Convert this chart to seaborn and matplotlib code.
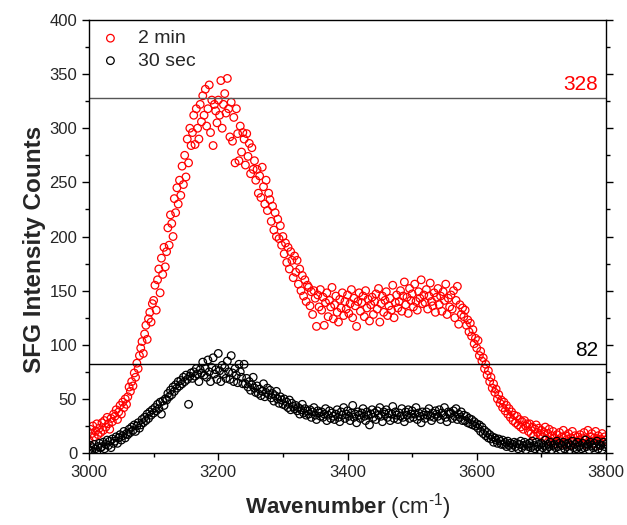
import matplotlib
matplotlib.use("Agg")
import matplotlib.pyplot as plt
from matplotlib.ticker import MultipleLocator
import numpy as np
import pandas as pd
import seaborn as sns

# wavenumber grid, 2 cm-1 step
wavenumber = np.arange(3000, 3802, 2)

# SFG counts, 10 points (20 cm-1) per line
counts_2min = [
    12, 22, 18, 25, 15, 20, 27, 17, 23, 19,
    28, 21, 30, 24, 33, 27, 22, 32, 29, 36,
    34, 40, 31, 38, 44, 36, 47, 42, 50, 45,
    52, 61, 57, 66, 62, 74, 70, 83, 78, 90,
    97, 103, 92, 110, 118, 105, 124, 130, 121, 138,
    141, 155, 132, 160, 170, 148, 180, 165, 190, 172,
    186, 208, 192, 220, 212, 200, 235, 222, 245, 230,
    252, 238, 265, 248, 275, 255, 290, 268, 300, 284,
    296, 312, 285, 318, 300, 290, 322, 306, 330, 312,
    336, 302, 318, 340, 296, 326, 284, 322, 316, 305,
    326, 312, 344, 300, 322, 332, 314, 346, 318, 292,
    324, 288, 310, 268, 318, 295, 270, 302, 278, 296,
    290, 266, 295, 274, 286, 258, 282, 262, 270, 252,
    262, 240, 256, 236, 264, 246, 230, 252, 224, 240,
    234, 214, 228, 206, 222, 200, 216, 198, 210, 192,
    200, 184, 194, 176, 190, 170, 186, 178, 162, 182,
    167, 178, 156, 170, 150, 164, 145, 160, 140, 155,
    153, 136, 149, 128, 150, 143, 117, 146, 135, 151,
    132, 144, 118, 139, 148, 126, 141, 135, 153, 124,
    137, 145, 130, 121, 142, 134, 148, 127, 140, 133,
    146, 129, 138, 151, 125, 143, 136, 117, 140, 148,
    131, 139, 145, 126, 150, 134, 142, 122, 137, 144,
    128, 140, 147, 133, 152, 121, 138, 145, 130, 141,
    149, 127, 136, 143, 132, 155, 125, 139, 146, 134,
    140, 150, 131, 145, 158, 137, 144, 129, 152, 141,
    147, 135, 156, 140, 132, 149, 143, 160, 138, 146,
    139, 151, 133, 145, 157, 140, 136, 148, 130, 144,
    152, 137, 145, 131, 149, 141, 156, 128, 143, 135,
    146, 133, 150, 125, 141, 154, 119, 137, 128, 134,
    126, 132, 118, 123, 112, 120, 108, 114, 101, 106,
    97, 104, 90, 94, 85, 88, 78, 82, 72, 76,
    66, 70, 60, 64, 56, 59, 50, 54, 46, 49,
    42, 47, 39, 44, 36, 41, 33, 38, 30, 35,
    28, 34, 26, 31, 24, 29, 22, 30, 25, 27,
    20, 27, 18, 24, 16, 22, 26, 19, 23, 17,
    21, 15, 19, 24, 13, 18, 22, 11, 16, 20,
    14, 9, 17, 12, 19, 8, 15, 21, 10, 16,
    13, 18, 7, 14, 20, 11, 16, 9, 15, 12,
    17, 10, 14, 19, 8, 13, 21, 11, 15, 18,
    9, 14, 20, 12, 16, 7, 13, 18, 10, 15,
    12,
]

counts_30sec = [
    3, 7, 2, 5, 8, 4, 1, 6, 9, 5,
    6, 10, 4, 8, 12, 7, 11, 5, 13, 9,
    11, 15, 9, 14, 17, 12, 16, 20, 14, 18,
    17, 22, 19, 24, 21, 26, 20, 25, 28, 23,
    26, 31, 28, 33, 30, 36, 32, 38, 35, 40,
    37, 42, 39, 45, 41, 47, 36, 48, 44, 50,
    49, 55, 52, 58, 54, 61, 57, 63, 60, 66,
    62, 67, 64, 70, 66, 72, 68, 45, 71, 74,
    69, 75, 71, 78, 73, 66, 77, 74, 84, 72,
    78, 70, 86, 75, 66, 79, 88, 73, 77, 68,
    92, 76, 66, 81, 73, 79, 69, 85, 75, 68,
    90, 74, 66, 78, 72, 65, 82, 75, 70, 64,
    82, 64, 69, 61, 66, 58, 63, 70, 60, 56,
    62, 55, 59, 53, 57, 64, 52, 56, 60, 54,
    58, 51, 55, 48, 53, 57, 50, 46, 52, 49,
    45, 50, 44, 47, 42, 49, 40, 46, 43, 41,
    44, 39, 42, 36, 40, 45, 37, 41, 35, 39,
    36, 40, 33, 38, 42, 35, 31, 39, 37, 34,
    38, 33, 36, 41, 30, 35, 39, 32, 37, 34,
    31, 36, 40, 33, 29, 38, 35, 42, 32, 36,
    39, 34, 30, 37, 44, 33, 36, 28, 38, 35,
    32, 37, 41, 34, 30, 38, 35, 26, 36, 40,
    33, 37, 31, 39, 35, 42, 34, 29, 38, 36,
    40, 33, 37, 30, 36, 43, 32, 38, 35, 31,
    37, 34, 41, 33, 29, 38, 35, 40, 32, 36,
    39, 33, 36, 42, 31, 37, 34, 28, 38, 35,
    32, 38, 35, 41, 34, 30, 37, 33, 39, 36,
    34, 40, 31, 37, 35, 42, 33, 29, 38, 36,
    37, 32, 39, 34, 41, 31, 36, 33, 38, 30,
    35, 30, 34, 28, 32, 27, 31, 26, 29, 25,
    27, 23, 26, 20, 24, 18, 21, 16, 19, 14,
    17, 13, 15, 10, 14, 12, 9, 13, 11, 8,
    12, 8, 10, 6, 11, 7, 9, 5, 8, 10,
    6, 9, 4, 8, 11, 5, 7, 10, 3, 8,
    6, 9, 5, 11, 7, 4, 10, 6, 8, 3,
    9, 5, 7, 12, 4, 8, 6, 10, 3, 7,
    8, 5, 11, 6, 9, 3, 7, 10, 4, 8,
    6, 9, 3, 7, 11, 5, 8, 4, 10, 6,
    7, 4, 9, 5, 12, 6, 8, 3, 10, 7,
    5, 9, 6, 11, 4, 8, 7, 3, 10, 6,
    8,
]

levels = [328, 82]
level_colors = ["red", "black"]

df = pd.DataFrame({"wavenumber": wavenumber,
                   "2 min": counts_2min,
                   "30 sec": counts_30sec})

sns.set_style("ticks")
plt.rcParams["font.family"] = ["Liberation Sans", "DejaVu Sans"]
plt.rcParams["mathtext.fontset"] = "custom"
plt.rcParams["mathtext.rm"] = "Liberation Sans"
plt.rcParams["mathtext.bf"] = "Liberation Sans:bold"

fig = plt.figure(figsize=(6.27, 5.25), dpi=100)
ax = fig.add_axes([0.142, 0.137, 0.8245, 0.825])

for name, col in [("2 min", "red"), ("30 sec", "black")]:
    sns.scatterplot(data=df, x="wavenumber", y=name, ax=ax, color=col,
                    facecolor="none", edgecolor=col, linewidth=0.9,
                    s=30, marker="o", label=name)

ax.axhline(levels[0], color="#555555", lw=1.0, zorder=1)
ax.axhline(levels[1], color="black", lw=1.0, zorder=1)
for lv, c in zip(levels, level_colors):
    ax.text(3788, lv + 4, str(lv), color=c, ha="right", va="bottom", fontsize=15)

ax.set_xlim(3000, 3800)
ax.set_ylim(0, 400)
ax.xaxis.set_major_locator(MultipleLocator(200))
ax.xaxis.set_minor_locator(MultipleLocator(100))
ax.yaxis.set_major_locator(MultipleLocator(50))
ax.yaxis.set_minor_locator(MultipleLocator(25))
ax.tick_params(which="both", direction="out", labelsize=12, color="black",
               right=True, top=False, labelright=False)
ax.tick_params(which="major", length=5, width=1)
ax.tick_params(which="minor", length=3, width=1)
for sp in ax.spines.values():
    sp.set_color("black")
    sp.set_linewidth(1.0)

ax.set_xlabel(r"$\bf{Wavenumber}$ (cm$^{\text{-}1}$)", fontsize=16, labelpad=8)
ax.set_ylabel("SFG Intensity Counts", fontsize=17.5, fontweight="bold")
ax.yaxis.set_label_coords(-0.084, 0.47)

ax.legend(loc="upper left", frameon=False, fontsize=14, handlelength=1.2,
          handletextpad=0.8, labelspacing=0.25, borderaxespad=0.1)

fig.savefig("out.png", dpi=100)
